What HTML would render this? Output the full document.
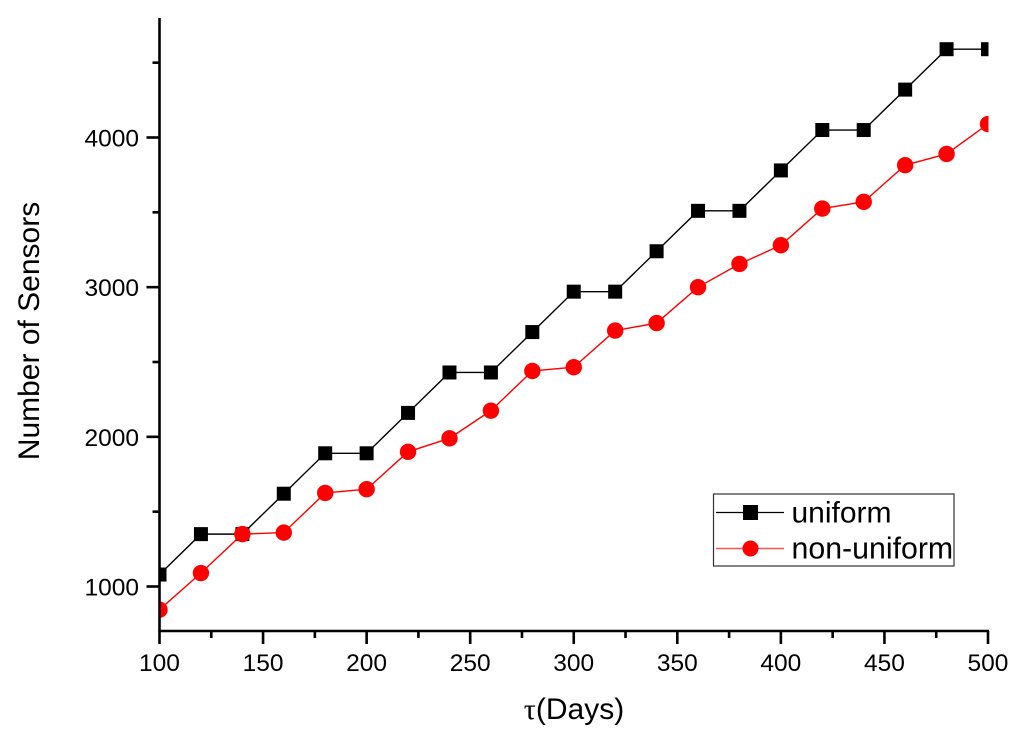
<!DOCTYPE html>
<html lang="en">
<head>
<meta charset="utf-8">
<title>Number of Sensors vs τ</title>
<style>
html,body{margin:0;padding:0;background:#fff;width:1024px;height:742px;overflow:hidden}
svg{display:block;font-family:"Liberation Sans",Arial,sans-serif;fill:#000}
</style>
</head>
<body>
<svg id="chart" xmlns="http://www.w3.org/2000/svg" width="1024" height="742" viewBox="0 0 1024 742">
  <defs>
    <clipPath id="plot-clip"><rect x="159" y="18" width="829.5" height="613"></rect></clipPath>
  </defs>
  <rect x="0" y="0" width="1024" height="742" fill="#fff"></rect>
  <g id="series-layer" clip-path="url(#plot-clip)"></g>
  <g id="axis-layer"></g>
  <text transform="translate(39,331) rotate(-90)" text-anchor="middle" font-size="30">Number of Sensors</text>
  <text x="574" y="719" text-anchor="middle" font-size="30"><tspan font-family="'Liberation Serif',serif">τ</tspan>(Days)</text>
  <g>
    <rect x="713.5" y="494" width="240.5" height="72" fill="#fff" stroke="#333" stroke-width="1.2"></rect>
    <g>
      <line x1="716" x2="784" y1="512.5" y2="512.5" stroke="#000" stroke-width="1.2"></line>
      <rect x="743" y="505" width="15" height="15" fill="#000"></rect>
      <text x="791.5" y="522.5" font-size="30">uniform</text>
    </g>
    <g>
      <line x1="716" x2="784" y1="548.5" y2="548.5" stroke="#f55" stroke-width="1.4"></line>
      <circle cx="750.5" cy="548.5" r="8" fill="#f00"></circle>
      <text x="791.5" y="558.5" font-size="30.3">non-uniform</text>
    </g>
  </g>
</svg>
<script>
const categories = [100,120,140,160,180,200,220,240,260,280,300,320,340,360,380,400,420,440,460,480,500];
const uniformValues = [1080,1350,1350,1620,1890,1890,2160,2430,2430,2700,2970,2970,3240,3510,3510,3780,4050,4050,4320,4590,4590];
const nonUniformValues = [845,1090,1350,1360,1625,1650,1900,1990,2175,2440,2465,2710,2760,3000,3155,3280,3525,3570,3815,3890,4090];
const xMajorTicks = [100,150,200,250,300,350,400,450,500];
const xMinorTicks = [125,175,225,275,325,375,425,475];
const yMajorTicks = [1000,2000,3000,4000];
const yMinorTicks = [1500,2500,3500,4500];

const NS = 'http://www.w3.org/2000/svg';
const xScale = v => 159.5 + (v - 100) * (988 - 159.5) / 400;
const yScale = v => 586.5 - (v - 1000) * (586.5 - 137.5) / 3000;

function make(tag, attrs, parent) {
  const el = document.createElementNS(NS, tag);
  for (const k in attrs) el.setAttribute(k, attrs[k]);
  parent.appendChild(el);
  return el;
}

const axisLayer = document.getElementById('axis-layer');
const seriesLayer = document.getElementById('series-layer');
const AXIS_Y = 631, AXIS_X = 159.5, AXIS_TOP = 18, AXIS_RIGHT = 988;
const AXIS_WIDTH = 2.6;

const xAxisLine = make('line', {x1: AXIS_X - 1, x2: AXIS_RIGHT + 1, y1: AXIS_Y, y2: AXIS_Y, stroke: '#000', 'stroke-width': AXIS_WIDTH}, axisLayer);


const yAxisLine = make('line', {x1: AXIS_X, x2: AXIS_X, y1: AXIS_TOP, y2: AXIS_Y + 1, stroke: '#000', 'stroke-width': AXIS_WIDTH}, axisLayer);



xMajorTicks.forEach(v => {
  const t = make('line', {x1: xScale(v), x2: xScale(v), y1: AXIS_Y, y2: AXIS_Y + 13, stroke: '#000', 'stroke-width': AXIS_WIDTH}, axisLayer);
  
  
  const l = make('text', {x: xScale(v), y: 671, 'text-anchor': 'middle', 'font-size': 24.5}, axisLayer);
  
  
  l.textContent = v;
});
xMinorTicks.forEach(v => {
  const t = make('line', {x1: xScale(v), x2: xScale(v), y1: AXIS_Y, y2: AXIS_Y + 7, stroke: '#000', 'stroke-width': AXIS_WIDTH}, axisLayer);
  
  
});
yMajorTicks.forEach(v => {
  const t = make('line', {x1: AXIS_X - 13, x2: AXIS_X, y1: yScale(v), y2: yScale(v), stroke: '#000', 'stroke-width': AXIS_WIDTH}, axisLayer);
  
  
  const l = make('text', {x: 139, y: yScale(v) + 9, 'text-anchor': 'end', 'font-size': 24.5}, axisLayer);
  
  
  l.textContent = v;
});
yMinorTicks.forEach(v => {
  const t = make('line', {x1: AXIS_X - 7, x2: AXIS_X, y1: yScale(v), y2: yScale(v), stroke: '#000', 'stroke-width': AXIS_WIDTH}, axisLayer);
  
  
});

const pointsOf = vals => categories.map((c, i) => xScale(c) + ',' + yScale(vals[i])).join(' ');

const uniformLine = make('polyline', {points: pointsOf(uniformValues), fill: 'none', stroke: '#000', 'stroke-width': 1.4}, seriesLayer);


categories.forEach((c, i) => {
  const m = make('rect', {x: xScale(c) - 7, y: yScale(uniformValues[i]) - 7, width: 14, height: 14, fill: '#000'}, seriesLayer);
  
  
});

const nonUniformLine = make('polyline', {points: pointsOf(nonUniformValues), fill: 'none', stroke: '#f00', 'stroke-width': 1.4}, seriesLayer);


categories.forEach((c, i) => {
  const m = make('circle', {cx: xScale(c), cy: yScale(nonUniformValues[i]), r: 8.2, fill: '#f00'}, seriesLayer);
  
  
});
</script>
</body>
</html>
